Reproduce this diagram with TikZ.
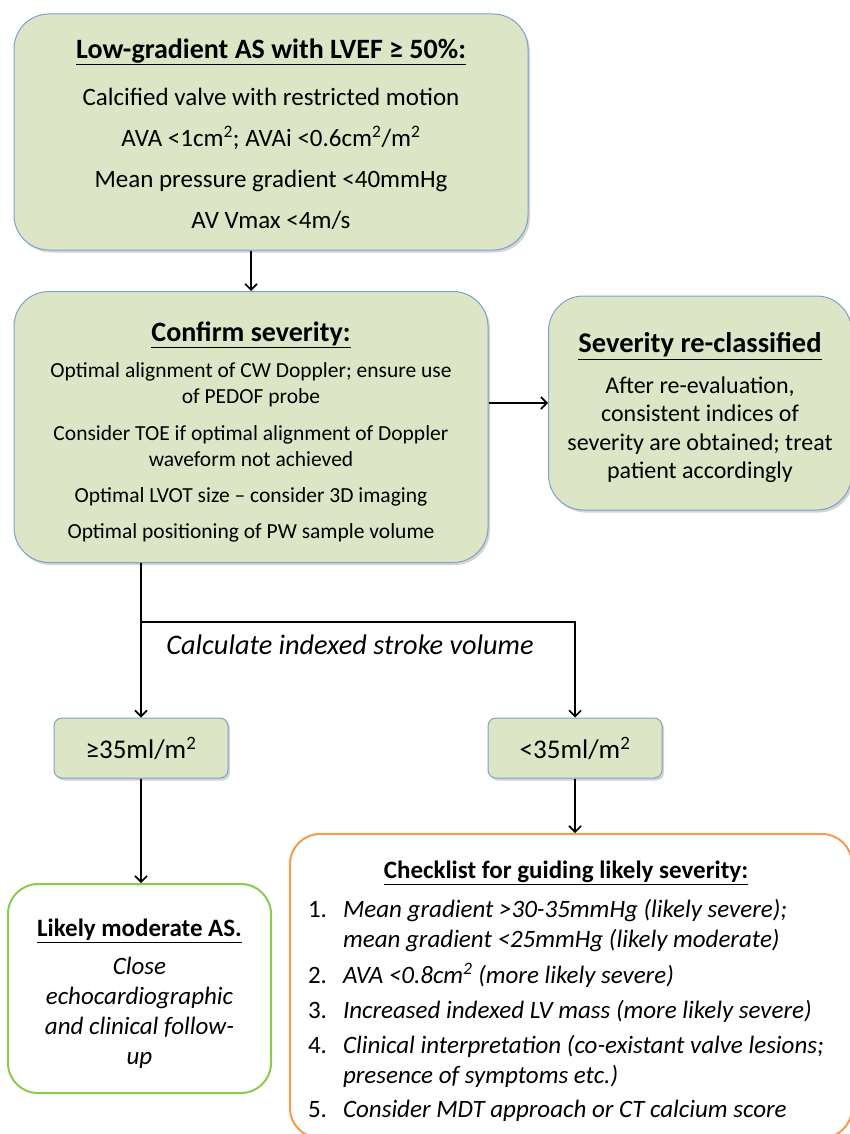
\documentclass[tikz,border=0pt]{standalone}
\usepackage{fontspec}
\setmainfont{Carlito}
\usetikzlibrary{shadows,arrows.meta}
\definecolor{boxfill}{HTML}{DCE6C6}
\definecolor{boxline}{HTML}{7CA2CB}
\definecolor{greenline}{HTML}{8CCB4E}
\definecolor{orangeline}{HTML}{F79A4A}
\newcommand{\ttl}[1]{{\fontsize{28}{30}\selectfont\bfseries\underline{#1}}}
\begin{document}
\begin{tikzpicture}[x=1pt,y=-1pt,
  gbox/.style={draw=boxline, line width=1pt, fill=boxfill, inner sep=0pt,
    drop shadow={shadow xshift=2pt, shadow yshift=-2.5pt, opacity=0.35}},
  bigbox/.style={gbox, rounded corners=35pt},
  smallbox/.style={gbox, rounded corners=8pt, minimum width=174pt, minimum height=60pt,
    font=\fontsize{27}{30}\selectfont},
  outbox/.style={line width=2pt, fill=white, rounded corners=30pt, inner sep=0pt},
  txt/.style={align=center, inner sep=0pt},
  arrow/.style={-{Straight Barb[length=6pt,width=12pt]}, line width=1.6pt},
  plain/.style={line width=1.6pt}]
\useasboundingbox (0,0) rectangle (850,1134);

% boxes
\node[bigbox, minimum width=514pt, minimum height=236pt] (b1) at (271,132) {};
\node[bigbox, minimum width=474pt, minimum height=271pt] (b2) at (251,427) {};
\node[bigbox, minimum width=303pt, minimum height=214pt] (b3) at (700,403) {};
\node[smallbox] (lo) at (141,748) {≥35ml/m\textsuperscript{2}};
\node[smallbox] (hi) at (575,748) {<35ml/m\textsuperscript{2}};
\node[outbox, draw=greenline, minimum width=263pt, minimum height=209pt] (mod) at (139.5,988.5) {};
\node[outbox, draw=orangeline, minimum width=562pt, minimum height=304pt] (chk) at (571,986) {};

% texts
\node[txt, font=\fontsize{25}{30}\selectfont, yshift=-2pt] (t1) at (b1.center) {%
  \ttl{Low-gradient AS with LVEF ≥ 50\%:}\\[17pt]
  Calcified valve with restricted motion\\[11pt]
  AVA <1cm\textsuperscript{2}; AVAi <0.6cm\textsuperscript{2}/m\textsuperscript{2}\\[11pt]
  Mean pressure gradient <40mmHg\\[11pt]
  AV Vmax <4m/s};

\node[txt, font=\fontsize{21.5}{26.5}\selectfont, yshift=-5pt] (t2) at (b2.center) {%
  \ttl{Confirm severity:}\\[9pt]
  Optimal alignment of CW Doppler; ensure use\\
  of PEDOF probe\\[10pt]
  Consider TOE if optimal alignment of Doppler\\
  waveform not achieved\\[9pt]
  Optimal LVOT size – consider 3D imaging\\[10pt]
  Optimal positioning of PW sample volume};

\node[txt, font=\fontsize{24}{28.5}\selectfont, yshift=-5pt] (t3) at (b3.center) {%
  {\fontsize{28.5}{30}\selectfont\bfseries\underline{Severity re-classified}}\\[12pt]
  After re-evaluation,\\
  consistent indices of\\
  severity are obtained; treat\\
  patient accordingly};

\node[txt, font=\fontsize{25}{30}\selectfont, yshift=-6pt] (t4) at (mod.center) {%
  \begin{tabular}{@{}c@{}}
  \bfseries\underline{Likely moderate AS.}\\[8pt]
  \itshape Close\\
  \itshape echocardiographic\\
  \itshape and clinical follow-\\
  \itshape up
  \end{tabular}};

\node[txt, font=\fontsize{25}{30}\selectfont, yshift=-6pt, xshift=-5pt] (t5) at (chk.center) {%
  \begin{tabular}{@{}l@{\hspace{16pt}}l@{}}
  \multicolumn{2}{c}{\bfseries\underline{Checklist for guiding likely severity:}}\\[9pt]
  1. & \itshape Mean gradient >30-35mmHg (likely severe);\\
     & \itshape mean gradient <25mmHg (likely moderate)\\[6pt]
  2. & \itshape AVA <0.8cm\textsuperscript{2} (more likely severe)\\[5pt]
  3. & \itshape Increased indexed LV mass (more likely severe)\\[5pt]
  4. & \itshape Clinical interpretation (co-existant valve lesions;\\
     & \itshape presence of symptoms etc.)\\[4pt]
  5. & \itshape Consider MDT approach or CT calcium score
  \end{tabular}};

% connectors
\draw[arrow] (b2.north |- b1.south) -- (b2.north);
\draw[arrow] (b3.west -| b2.east) -- (b3.west);
\coordinate (fork) at (141,622);
\draw[plain] (lo.north |- b2.south) -- (fork);
\draw[arrow] (fork) -- (lo.north);
\draw[arrow] (fork) -| (hi.north);
\node[font=\fontsize{28.3}{30}\selectfont\itshape] (calc) at (350,645) {Calculate indexed stroke volume};
\draw[arrow] (lo.south) -- (lo.south |- mod.north);
\draw[arrow] (hi.south) -- (hi.south |- chk.north);
\end{tikzpicture}
\end{document}
